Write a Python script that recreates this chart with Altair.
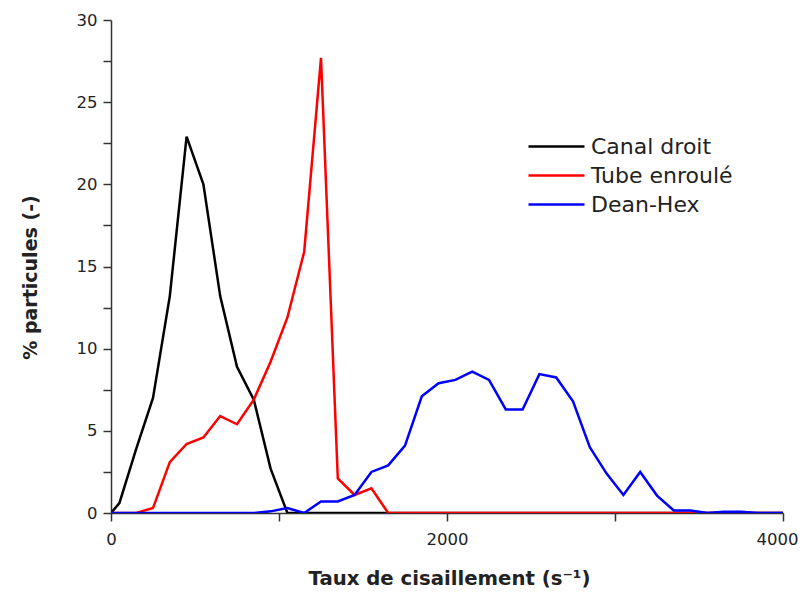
import altair as alt
import pandas as pd

series_names = ["Canal droit", "Tube enroulé", "Dean-Hex"]
series_colors = ["#000000", "#ff0000", "#0000ff"]

canal_x = [0, 50, 150, 250, 350, 450, 550, 650, 750, 850, 950, 1050, 4000]
canal_y = [0, 0.6, 3.9, 7.0, 13.2, 22.9, 20.0, 13.2, 8.9, 6.9, 2.7, 0, 0]

tube_x = [0, 150, 250, 350, 450, 550, 650, 750, 850, 950, 1050, 1150, 1250,
          1350, 1450, 1550, 1650, 4000]
tube_y = [0, 0, 0.3, 3.1, 4.2, 4.6, 5.9, 5.4, 6.9, 9.2, 11.9, 15.9, 27.7,
          2.1, 1.1, 1.5, 0, 0]

dean_x = [0, 850, 950, 1050, 1150, 1250, 1350, 1450, 1550, 1650, 1750, 1850,
          1950, 2050, 2150, 2250, 2350, 2450, 2550, 2650, 2750, 2850, 2950,
          3050, 3150, 3250, 3350, 3450, 3550, 3650, 3750, 3850, 4000]
dean_y = [0, 0, 0.1, 0.3, 0, 0.7, 0.7, 1.1, 2.5, 2.9, 4.1, 7.1,
          7.9, 8.1, 8.6, 8.1, 6.3, 6.3, 8.45, 8.25, 6.8, 4.0, 2.4,
          1.1, 2.5, 1.06, 0.15, 0.15, 0, 0.08, 0.08, 0, 0]

x_ticks = [0, 1000, 2000, 3000, 4000]
y_ticks = [0, 2.5, 5, 7.5, 10, 12.5, 15, 17.5, 20, 22.5, 25, 27.5, 30]

rows = []
for order, (name, xs, ys) in enumerate(zip(series_names,
                                           [canal_x, tube_x, dean_x],
                                           [canal_y, tube_y, dean_y])):
    for xv, yv in zip(xs, ys):
        rows.append({"x": xv, "y": yv, "serie": name, "ordre": order})
df = pd.DataFrame(rows)

FONT = "DejaVu Sans"

chart = alt.Chart(df).mark_line(strokeWidth=2.5, clip=True).encode(
    x=alt.X("x:Q", scale=alt.Scale(domain=[0, 4000], nice=False, zero=False),
            axis=alt.Axis(values=x_ticks, title="Taux de cisaillement (s⁻¹)",
                          labelExpr="datum.value % 2000 == 0 ? datum.value : ''",
                          labelFlush=False,
                          labelAlign={"condition": {"test": "datum.value == 4000",
                                                    "value": "right"},
                                      "value": "center"},
                          labelOffset={"condition": {"test": "datum.value == 4000",
                                                     "value": 15},
                                       "value": 0},
                          grid=False, tickSize=8, labelPadding=10,
                          titleFontSize=19.7,
                          titleX=338, titleY=65, titleAnchor="middle",
                          titleBaseline="middle", titleAlign="center")),
    y=alt.Y("y:Q", scale=alt.Scale(domain=[0, 30], nice=False),
            axis=alt.Axis(values=y_ticks, title="% particules (-)",
                          labelExpr="datum.value % 5 == 0 ? datum.value : ''",
                          grid=False, tickSize=8, labelPadding=6,
                          titleFontSize=19,
                          titleX=-81, titleY=257, titleAngle=270,
                          titleBaseline="middle", titleAlign="center")),
    color=alt.Color("serie:N",
                    scale=alt.Scale(domain=series_names, range=series_colors),
                    legend=alt.Legend(title=None, orient="none",
                                      legendX=416, legendY=112,
                                      symbolType="stroke", symbolSize=3136,
                                      symbolStrokeWidth=2.5,
                                      labelFontSize=22, labelFont=FONT,
                                      labelColor="#222222", clipHeight=29,
                                      labelOffset=5, rowPadding=0)),
    order=alt.Order("ordre:Q"),
    detail="serie:N",
).properties(
    width=672, height=493,
    autosize=alt.AutoSizeParams(type="none"),
    padding={"left": 103, "top": 12, "right": 15, "bottom": 75},
).configure_view(stroke=None).configure_axis(
    labelFont=FONT, titleFont=FONT, labelFontSize=16.5,
    labelColor="#222222", titleColor="#222222", titleFontWeight="bold",
    domainColor="#333333", tickColor="#333333", domainWidth=1.5, tickWidth=1.5,
)

chart.save("out.html", embed_options={"renderer": "svg", "actions": False})
